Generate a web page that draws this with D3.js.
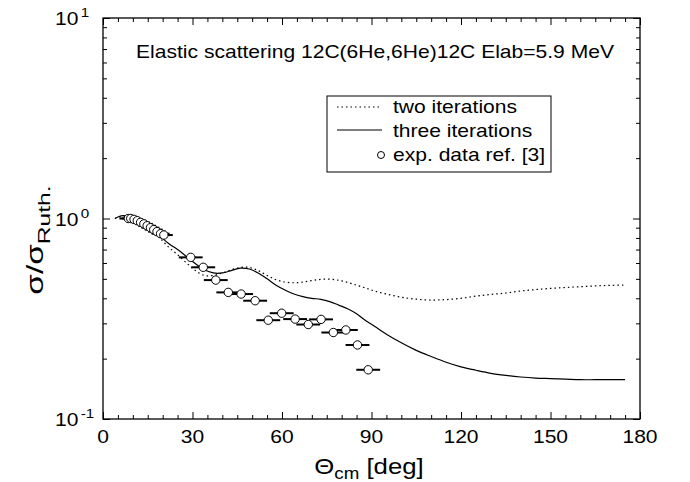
<!DOCTYPE html>
<html>
<head>
<meta charset="utf-8">
<script src="https://cdn.jsdelivr.net/npm/d3@7"></script>
<style>
  body { margin: 0; background: #fff; }
  text { font-family: "Liberation Sans", Arial, sans-serif; fill: #000; }
</style>
</head>
<body>
<div id="chart"></div>
<script>
// angles (deg) where the calculated curves were sampled
const curveAngles = [4, 6, 8, 10, 13, 16, 19, 22, 25, 28, 31, 34, 37, 40, 43, 46, 49, 52, 55, 58,
  61, 64, 67, 70, 73, 76, 79, 82, 85, 88, 91, 95, 100, 105, 110, 115, 120, 125, 130, 135,
  140, 145, 150, 155, 160, 165, 170, 175];
const twoIterations = [1.00, 1.02, 1.02, 1.00, 0.94, 0.87, 0.80, 0.72, 0.66, 0.60, 0.55, 0.52, 0.52, 0.535, 0.555, 0.57, 0.57, 0.55, 0.52, 0.495,
  0.482, 0.478, 0.482, 0.49, 0.497, 0.498, 0.492, 0.48, 0.465, 0.45, 0.435, 0.42, 0.405, 0.396, 0.392, 0.394, 0.40, 0.41, 0.418, 0.425,
  0.435, 0.442, 0.448, 0.453, 0.457, 0.461, 0.464, 0.466];
const threeIterations = [1.00, 1.03, 1.03, 1.01, 0.95, 0.89, 0.82, 0.75, 0.70, 0.645, 0.595, 0.555, 0.535, 0.535, 0.55, 0.565, 0.56, 0.535, 0.50, 0.465,
  0.44, 0.42, 0.408, 0.40, 0.395, 0.385, 0.37, 0.355, 0.335, 0.31, 0.29, 0.265, 0.24, 0.22, 0.205, 0.192, 0.182, 0.175, 0.169, 0.165,
  0.162, 0.160, 0.159, 0.158, 0.157, 0.157, 0.157, 0.157];

// experimental points
const expAngles = [8.5, 9.3, 10.4, 11.5, 12.6, 13.7, 14.8, 15.9, 17.0, 18.1, 19.3, 20.4,
  29.4, 33.6, 37.8, 42.0, 46.3, 51.0, 55.4, 59.9, 64.4, 68.8, 73.1, 77.2, 81.4, 85.3, 88.9];
const expValues = [1.00, 1.00, 0.99, 0.975, 0.957, 0.94, 0.92, 0.90, 0.88, 0.86, 0.84, 0.827,
  0.640, 0.571, 0.493, 0.428, 0.420, 0.389, 0.311, 0.337, 0.315, 0.296, 0.314, 0.270, 0.278, 0.234, 0.176];
const expAngleErr = [3, 3, 3, 3, 3, 3, 3, 3, 3, 3, 3, 3,
  4, 4, 4, 4, 4, 4, 4, 4, 4, 4, 4, 4, 4, 4, 4];

const xMajorTicks = [0, 30, 60, 90, 120, 150, 180];
const yDecades = [0.1, 1, 10];
const yExponents = ["-1", "0", "1"];
const titleText = "Elastic scattering 12C(6He,6He)12C Elab=5.9 MeV";
const legendLabels = ["two iterations", "three iterations", "exp. data ref. [3]"];

const W = 690, H = 482;
const margin = { top: 18, right: 50, bottom: 63, left: 103 };
const SX = 1.17; // the lettering in the original is a bit wide

const svg = d3.select("#chart").append("svg")
  .attr("width", W)
  .attr("height", H);

const x = d3.scaleLinear().domain([0, 180]).range([margin.left, W - margin.right]);
const y = d3.scaleLog().domain([0.1, 10]).range([H - margin.bottom, margin.top]);

const xMinor = d3.range(0, 181, 5).filter(v => v % 30 !== 0);
const yMinor = [];
[0.1, 1].forEach(d => { for (let k = 2; k <= 9; k++) yMinor.push(d * k); });

// wide text helper
function wideText(parent, px, py, size, anchor) {
  return parent.append("g")
    .attr("transform", `translate(${px},${py}) scale(${SX},1)`)
    .append("text")
    .attr("text-anchor", anchor || "start")
    .attr("font-size", size);
}

// ticks, all pointing inward
function tickAxes(axisFn, scale, values, size, pos) {
  return svg.append("g")
    .attr("transform", pos)
    .call(axisFn(scale).tickValues(values).tickSize(-size).tickFormat(""))
    .call(g => g.select(".domain").remove())
    .call(g => g.selectAll("line").attr("stroke", "#000").attr("stroke-width", 1));
}
const x0 = margin.left, x1 = W - margin.right, y0 = H - margin.bottom, y1 = margin.top;
tickAxes(d3.axisBottom, x, xMajorTicks, 7, `translate(0,${y0})`);
tickAxes(d3.axisBottom, x, xMinor, 4, `translate(0,${y0})`);
tickAxes(d3.axisTop, x, xMajorTicks, 7, `translate(0,${y1})`);
tickAxes(d3.axisTop, x, xMinor, 4, `translate(0,${y1})`);
tickAxes(d3.axisLeft, y, yDecades, 7, `translate(${x0},0)`);
tickAxes(d3.axisLeft, y, yMinor, 4, `translate(${x0},0)`);
tickAxes(d3.axisRight, y, yDecades, 7, `translate(${x1},0)`);
tickAxes(d3.axisRight, y, yMinor, 4, `translate(${x1},0)`);

svg.append("rect")
  .attr("x", x0).attr("y", y1)
  .attr("width", x1 - x0).attr("height", y0 - y1)
  .attr("fill", "none").attr("stroke", "#000").attr("stroke-width", 1.3);

// x tick labels
xMajorTicks.forEach(d => {
  wideText(svg, x(d), y0 + 24, 18, "middle").text(d);
});

// y tick labels 10^n
yDecades.forEach((d, i) => {
  const t = wideText(svg, 55, y(d) + 7, 18, "start");
  t.append("tspan").text("10");
  t.append("tspan").attr("font-size", 13).attr("dx", 2).attr("dy", -8).text(yExponents[i]);
});

// axis titles
const xt = wideText(svg, 369, 474, 22, "middle");
xt.append("tspan").text("\u0398");
xt.append("tspan").attr("font-size", 16).attr("dy", 5).text("cm");
xt.append("tspan").attr("dy", -5).text(" [deg]");

const yt = svg.append("g")
  .attr("transform", "translate(43,240) rotate(-90) scale(1.45,1)")
  .append("text")
  .attr("text-anchor", "middle")
  .attr("font-size", 23);
yt.append("tspan").text("\u03c3/\u03c3");
yt.append("tspan").attr("font-size", 17).attr("dy", 7).text("Ruth.");

// title inside frame
wideText(svg, 375, 58, 18, "middle").text(titleText);

// curves
const line = d3.line()
  .x(d => x(d[0]))
  .y(d => y(d[1]))
  .curve(d3.curveCatmullRom);

svg.append("path")
  .datum(curveAngles.map((a, i) => [a, twoIterations[i]]))
  .attr("fill", "none")
  .attr("stroke", "#000")
  .attr("stroke-width", 1.2)
  .attr("stroke-dasharray", "1.5,3")
  .attr("d", line);

svg.append("path")
  .datum(curveAngles.map((a, i) => [a, threeIterations[i]]))
  .attr("fill", "none")
  .attr("stroke", "#000")
  .attr("stroke-width", 1.2)
  .attr("d", line);

// experimental data with horizontal error bars
const exp = expAngles.map((a, i) => ({ a: a, v: expValues[i], e: expAngleErr[i] }));
svg.append("g").selectAll("line")
  .data(exp)
  .enter().append("line")
  .attr("x1", d => x(d.a - d.e))
  .attr("x2", d => x(d.a + d.e))
  .attr("y1", d => y(d.v))
  .attr("y2", d => y(d.v))
  .attr("stroke", "#000")
  .attr("stroke-width", 2);

svg.append("g").selectAll("circle")
  .data(exp)
  .enter().append("circle")
  .attr("cx", d => x(d.a))
  .attr("cy", d => y(d.v))
  .attr("r", 4.2)
  .attr("fill", "#fff")
  .attr("stroke", "#000")
  .attr("stroke-width", 1);

// legend
const lg = svg.append("g").attr("transform", "translate(327,96)");
lg.append("rect")
  .attr("width", 224).attr("height", 76)
  .attr("fill", "#fff").attr("stroke", "#000").attr("stroke-width", 1);
lg.append("line")
  .attr("x1", 10).attr("x2", 54).attr("y1", 11).attr("y2", 11)
  .attr("stroke", "#000").attr("stroke-width", 1.2).attr("stroke-dasharray", "1.5,3");
lg.append("line")
  .attr("x1", 10).attr("x2", 55).attr("y1", 34).attr("y2", 34)
  .attr("stroke", "#000").attr("stroke-width", 1.2);
lg.append("circle")
  .attr("cx", 54).attr("cy", 59).attr("r", 3.5)
  .attr("fill", "#fff").attr("stroke", "#000");
legendLabels.forEach((d, i) => {
  wideText(lg, 66, 17 + i * 24, 18, "start").text(d);
});
</script>
</body>
</html>
